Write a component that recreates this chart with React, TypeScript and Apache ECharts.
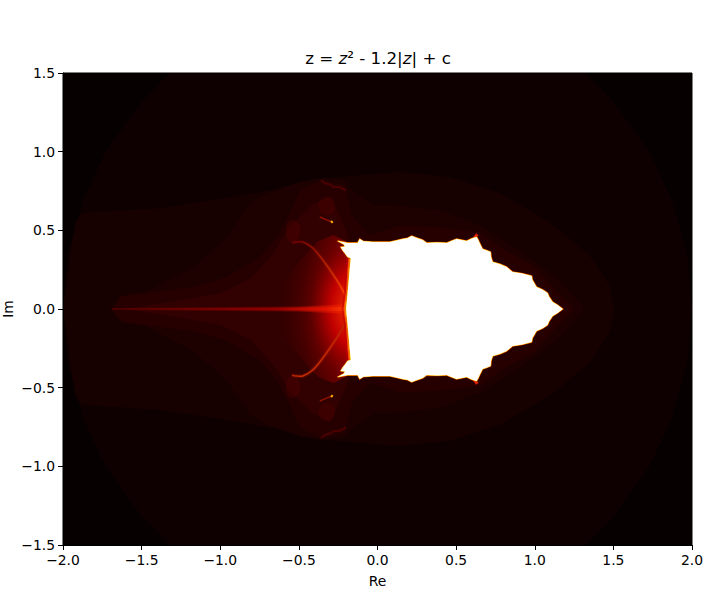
import React, { useEffect, useRef } from "react";
import * as echarts from "echarts";

type Pt = number[];

const reTicks = [-2, 2];
const imTicks = [-1.5, 1.5];
const tickStep = 0.5;

// Upper-half contours of the picture, read as [Re, Im]. The picture is symmetric about Im = 0.
const radiusTwoRing: Pt[] = [[-2, 0], [-1.97, 0.35], [-1.87, 0.7], [-1.73, 1], [-1.5, 1.32], [-1.32, 1.5], [1.32, 1.5], [1.5, 1.32], [1.73, 1], [1.87, 0.7], [1.97, 0.35], [2, 0]];
const outerShell: Pt[] = [[-2, 0], [-1.97, 0.2], [-1.95, 0.37], [-1.92, 0.55], [-1.88, 0.61], [-1.384, 0.642], [-0.958, 0.706], [-0.494, 0.788], [-0.335, 0.833], [-0.177, 0.845], [0.141, 0.871], [0.459, 0.839], [0.776, 0.737], [1.094, 0.553], [1.348, 0.343], [1.475, 0.153], [1.507, 0]];
const midShell: Pt[] = [[-1.701, 0], [-1.638, 0.083], [-1.492, 0.102], [-1.174, 0.267], [-0.958, 0.458], [-0.812, 0.674], [-0.704, 0.737], [-0.494, 0.807], [-0.355, 0.833], [-0.208, 0.82], [-0.164, 0.757], [-0.018, 0.661], [0.109, 0.661], [0.395, 0.629], [0.649, 0.534], [0.903, 0.375], [1.157, 0.184], [1.316, 0]];
const innerShell: Pt[] = [[-1.689, 0], [-1.625, 0.083], [-1.492, 0.102], [-1.174, 0.14], [-0.958, 0.203], [-0.748, 0.331], [-0.64, 0.458], [-0.558, 0.61], [-0.494, 0.757], [-0.355, 0.82], [-0.208, 0.788], [-0.164, 0.598], [-0.05, 0.47], [0.14, 0.53], [0.4, 0.52], [0.65, 0.49], [0.8, 0.38], [1, 0.27], [1.15, 0.1], [1.25, 0]];
const coreShell: Pt[] = [[-1.6, 0], [-1.3, 0.05], [-1, 0.1], [-0.8, 0.2], [-0.66, 0.36], [-0.56, 0.52], [-0.42, 0.66], [-0.3, 0.72], [-0.2, 0.5], [-0.15, 0.3], [-0.15, 0]];
const glowPatch: Pt[] = [[-0.75, 0], [-0.62, 0.15], [-0.5, 0.3], [-0.38, 0.43], [-0.28, 0.47], [-0.18, 0.42], [-0.16, 0.36], [-0.16, 0]];
const whiteRegion: Pt[] = [[-0.2, 0], [-0.196, 0.038], [-0.19, 0.1], [-0.177, 0.248], [-0.17, 0.324], [-0.19, 0.33], [-0.208, 0.356], [-0.22, 0.37], [-0.234, 0.394], [-0.208, 0.396], [-0.212, 0.41], [-0.253, 0.432], [-0.23, 0.428], [-0.189, 0.42], [-0.126, 0.42], [-0.113, 0.445], [-0.09, 0.43], [-0.03, 0.426], [0.078, 0.426], [0.12, 0.435], [0.16, 0.445], [0.19, 0.45], [0.217, 0.464], [0.25, 0.452], [0.287, 0.439], [0.313, 0.42], [0.38, 0.422], [0.44, 0.42], [0.47, 0.432], [0.503, 0.445], [0.567, 0.432], [0.6, 0.448], [0.63, 0.458], [0.64, 0.44], [0.649, 0.42], [0.668, 0.381], [0.695, 0.372], [0.719, 0.362], [0.722, 0.33], [0.732, 0.299], [0.78, 0.285], [0.821, 0.267], [0.859, 0.235], [0.92, 0.225], [0.98, 0.21], [0.985, 0.185], [1.011, 0.14], [1.05, 0.122], [1.081, 0.102], [1.09, 0.08], [1.113, 0.045], [1.145, 0.025], [1.178, 0]];
const axisGlow: Pt[] = [[-1.6, 0.008], [-1, 0.012], [-0.5, 0.016], [-0.19, 0.03], [-0.19, 0]];
const axisStreak: Pt[] = [[-1.69, 0.005], [-1, 0.007], [-0.5, 0.01], [-0.19, 0.012], [-0.19, 0]];
const edgeGlow: Pt[] = [[-0.168, 0.33], [-0.175, 0.25], [-0.185, 0.1], [-0.196, 0.03], [-0.2, 0]];
const archCurve: Pt[] = [[-0.196, 0.076], [-0.259, 0.184], [-0.348, 0.312], [-0.412, 0.388], [-0.475, 0.426], [-0.513, 0.426], [-0.545, 0.42]];
const topSpeck: Pt[] = [[-0.36, 0.82], [-0.335, 0.801], [-0.3, 0.79], [-0.28, 0.775], [-0.245, 0.775], [-0.2, 0.755]];
const loopSpeck: Pt[] = [[-0.367, 0.585], [-0.32, 0.565], [-0.29, 0.553]];
const hotSpeck: Pt[] = [[-0.295, 0.56], [-0.285, 0.548]];
const rimSpeck: Pt[] = [[0.615, 0.45], [0.635, 0.475]];
const lobeA: Pt[] = [[-0.37, 0.68], [-0.31, 0.71], [-0.27, 0.66], [-0.3, 0.6], [-0.36, 0.62]];
const lobeB: Pt[] = [[-0.56, 0.56], [-0.5, 0.54], [-0.5, 0.46], [-0.54, 0.42], [-0.58, 0.47]];

const flip = (pts: Pt[]): Pt[] => pts.map(([re, im]) => [re, -im]);
const mirrored = (pts: Pt[]): Pt[] => [...pts, ...flip(pts).reverse()];

const h = (c: any) => new echarts.graphic.LinearGradient(0, 0, 1, 0, c);

function polygon(pts: Pt[], style: any, z = 2, smooth = 0) {
  return {
    type: "custom", coordinateSystem: "cartesian2d", clip: true, silent: true, z,
    data: pts,
    renderItem: (p: any, api: any) =>
      p.dataIndex
        ? null
        : { type: "polygon", shape: { points: pts.map((q) => api.coord(q)), smooth }, style },
  };
}
function line(pts: Pt[], style: any, z = 3, smooth = 0) {
  return {
    type: "custom", coordinateSystem: "cartesian2d", clip: true, silent: true, z,
    data: pts,
    renderItem: (p: any, api: any) =>
      p.dataIndex
        ? null
        : { type: "polyline", shape: { points: pts.map((q) => api.coord(q)), smooth }, style: { fill: null, ...style } },
  };
}

export default function App() {
  const ref = useRef<HTMLDivElement>(null);
  useEffect(() => {
    const chart = echarts.init(ref.current!, null, { renderer: "svg" });
    const font = "DejaVu Sans";
    const tick = (v: number) => v.toFixed(1).replace("-", "\u2212");
    const arcGrad = (a: string, b: string) => new echarts.graphic.LinearGradient(1, 1, 0, 0, [{ offset: 0, color: a }, { offset: 1, color: b }]);
    chart.setOption({
      animation: false,
      title: {
        text: "{n|z = }{i|z}{n|\u00b2 - 1.2|}{i|z}{n|| + c}",
        left: 373, top: 44, textAlign: "center",
        textStyle: {
          fontWeight: "normal",
          rich: {
            n: { fontFamily: font, fontSize: 16.7, fontWeight: "normal", color: "#000" },
            i: { fontFamily: font, fontSize: 16.7, fontWeight: "normal", fontStyle: "italic", color: "#000" },
          },
        },
      },
      grid: { left: 63, top: 73, width: 629, height: 472, outerBoundsMode: "none", show: true, backgroundColor: "#060000", borderColor: "#000", borderWidth: 1 },
      xAxis: {
        type: "value", min: reTicks[0], max: reTicks[1], interval: tickStep, name: "Re", nameLocation: "middle", nameGap: 29, nameMoveOverlap: false, z: 10,
        nameTextStyle: { fontFamily: font, fontSize: 13.9, color: "#000" },
        axisLine: { onZero: false, lineStyle: { color: "#000" } },
        axisTick: { length: 5, lineStyle: { color: "#000" } },
        axisLabel: { fontFamily: font, fontSize: 13.9, color: "#000", margin: 8, formatter: tick },
        splitLine: { show: false },
      },
      yAxis: {
        type: "value", min: imTicks[0], max: imTicks[1], interval: tickStep, name: "Im", nameLocation: "middle", nameGap: 48, nameMoveOverlap: false, z: 10,
        nameTextStyle: { fontFamily: font, fontSize: 13.9, color: "#000" },
        axisLine: { onZero: false, lineStyle: { color: "#000" } },
        axisTick: { length: 5, lineStyle: { color: "#000" } },
        axisLabel: { fontFamily: font, fontSize: 13.9, color: "#000", margin: 8, formatter: tick },
        splitLine: { show: false },
      },
      series: [
        polygon(mirrored(radiusTwoRing), { fill: "#0e0000" }, 2),
        polygon(mirrored(outerShell), { fill: "#160000" }, 2),
        polygon(mirrored(midShell), { fill: "#1d0000" }, 2),
        polygon(mirrored(innerShell), { fill: "#260000" }, 2),
        polygon(mirrored(coreShell), { fill: "#310000" }, 2),
        polygon(lobeA, { fill: "rgba(90,0,0,0.3)" }, 3, 0.5),
        polygon(flip(lobeA), { fill: "rgba(90,0,0,0.3)" }, 3, 0.5),
        polygon(lobeB, { fill: "rgba(90,0,0,0.35)" }, 3, 0.5),
        polygon(flip(lobeB), { fill: "rgba(90,0,0,0.35)" }, 3, 0.5),
        polygon(mirrored(glowPatch), {
          fill: h([
            { offset: 0, color: "rgba(120,0,0,0)" },
            { offset: 0.5, color: "rgba(120,0,0,0)" },
            { offset: 1, color: "rgba(160,0,0,0.55)" },
          ]),
        }, 3),
        polygon(mirrored(glowPatch), {
          fill: new echarts.graphic.RadialGradient(1, 0.5, 0.8, [
            { offset: 0, color: "rgba(255,60,0,0.95)" },
            { offset: 0.3, color: "rgba(220,0,0,0.8)" },
            { offset: 0.57, color: "rgba(130,0,0,0.5)" },
            { offset: 1, color: "rgba(80,0,0,0)" },
          ]),
        }, 3),
        polygon(mirrored(axisGlow), {
          fill: h([
            { offset: 0, color: "rgba(110,0,0,0.2)" },
            { offset: 0.7, color: "rgba(170,0,0,0.4)" },
            { offset: 1, color: "rgba(255,40,0,0.6)" },
          ]),
        }, 4),
        polygon(mirrored(axisStreak), {
          fill: h([
            { offset: 0, color: "#500000" },
            { offset: 0.7, color: "#900000" },
            { offset: 0.9, color: "#e01000" },
            { offset: 1, color: "#ff4000" },
          ]),
        }, 4),
        ...[archCurve, flip(archCurve)].flatMap((a) => [
          line(a, { stroke: arcGrad("rgba(255,50,0,0.3)", "rgba(120,0,0,0.15)"), lineWidth: 4 }, 4, 0.3),
          line(a, { stroke: arcGrad("#ff4a00", "#700000"), lineWidth: 1.4 }, 4, 0.3),
        ]),
        line(topSpeck, { stroke: "rgba(100,0,0,0.6)", lineWidth: 2 }, 4),
        line(flip(topSpeck), { stroke: "rgba(100,0,0,0.6)", lineWidth: 2 }, 4),
        line(loopSpeck, { stroke: "#901000", lineWidth: 1.5 }, 4),
        line(flip(loopSpeck), { stroke: "#901000", lineWidth: 1.5 }, 4),
        line(hotSpeck, { stroke: "#ffb000", lineWidth: 2 }, 4),
        line(flip(hotSpeck), { stroke: "#ffb000", lineWidth: 2 }, 4),
        line(mirrored(edgeGlow), { stroke: "rgba(190,0,0,0.55)", lineWidth: 9 }, 5),
        line(mirrored(edgeGlow), { stroke: "#ff5000", lineWidth: 5 }, 5),
        line(mirrored(edgeGlow), { stroke: "#ffe000", lineWidth: 2.5 }, 5),
        line(rimSpeck, { stroke: "#e02000", lineWidth: 3 }, 5),
        line(flip(rimSpeck), { stroke: "#e02000", lineWidth: 3 }, 5),
        polygon(mirrored(whiteRegion), { fill: "#c02000", stroke: "#c82000", lineWidth: 1.6 }, 6),
        polygon(mirrored(whiteRegion), { fill: "#ffd000", stroke: "#ffd800", lineWidth: 0.8 }, 6),
        polygon(mirrored(whiteRegion), { fill: "#ffffff" }, 7),
      ],
    });
    return () => chart.dispose();
  }, []);
  return <div ref={ref} style={{ position: "fixed", left: 0, top: 0, width: 713, height: 612, background: "#fff" }} />;
}
